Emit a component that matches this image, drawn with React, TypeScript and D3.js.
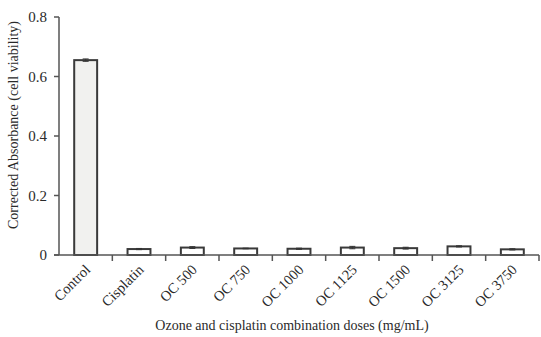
import React from "react";
import * as d3 from "d3";

const categories = ["Control", "Cisplatin", "OC 500", "OC 750", "OC 1000", "OC 1125", "OC 1500", "OC 3125", "OC 3750"];
const values = [0.655, 0.02, 0.025, 0.022, 0.021, 0.025, 0.023, 0.029, 0.019];
const errors = [0.004, 0.002, 0.003, 0.001, 0.002, 0.004, 0.003, 0.002, 0.002];
const yTicks = [0, 0.2, 0.4, 0.6, 0.8];
const yTickLabels = ["0", "0.2", "0.4", "0.6", "0.8"];

export default function App() {
  const W = 541, H = 337;
  const left = 59, right = 539, top = 17, bottom = 255;
  const x = d3.scaleBand<string>().domain(categories).range([left, right]).paddingInner(0).paddingOuter(0);
  const y = d3.scaleLinear().domain([0, 0.8]).range([bottom, top]);
  const bw = x.bandwidth() * 0.43;
  const font = "'Liberation Serif', 'Times New Roman', serif";
  const axisColor = "#555";
  const textColor = "#2a2a2a";
  return (
    <svg width={W} height={H} style={{ position: "absolute", left: 0, top: 0, background: "#fff" }} fontFamily={font}>
      {categories.map((c, i) => {
        const cx = x(c)! + x.bandwidth() / 2;
        const yt = y(values[i]);
        return (
          <g key={c}>
            <rect x={cx - bw / 2} y={yt} width={bw} height={bottom - yt} fill={i === 0 ? "#f1f1ef" : "#fff"} stroke="#3a3a3a" strokeWidth={2} />
            <line x1={cx} x2={cx} y1={y(values[i] + errors[i])} y2={y(values[i] - errors[i])} stroke="#333" strokeWidth={1} />
            <line x1={cx - 3} x2={cx + 3} y1={y(values[i] + errors[i])} y2={y(values[i] + errors[i])} stroke="#333" strokeWidth={1} />
            <line x1={cx - 3} x2={cx + 3} y1={y(values[i] - errors[i])} y2={y(values[i] - errors[i])} stroke="#333" strokeWidth={1} />
          </g>
        );
      })}
      <line x1={left} x2={left} y1={top} y2={bottom} stroke={axisColor} strokeWidth={1.5} />
      {yTicks.map((t, i) => (
        <g key={t}>
          <line x1={left - 5} x2={left} y1={y(t)} y2={y(t)} stroke={axisColor} strokeWidth={1.5} />
          <text x={left - 12} y={y(t)} dy="0.35em" textAnchor="end" fontSize={15} fill={textColor}>{yTickLabels[i]}</text>
        </g>
      ))}
      <line x1={left - 5} x2={right} y1={bottom} y2={bottom} stroke={axisColor} strokeWidth={1.5} />
      {categories.map((c) => (
        <line key={"t" + c} x1={x(c)! + x.bandwidth()} x2={x(c)! + x.bandwidth()} y1={bottom} y2={bottom + 6} stroke={axisColor} strokeWidth={1.5} />
      ))}
      {categories.map((c) => {
        const cx = x(c)! + x.bandwidth() / 2 + 2;
        const ty = bottom + 12;
        return (
          <text key={"l" + c} x={cx} y={ty} transform={`rotate(-45 ${cx} ${ty})`} textAnchor="end" dy="0.35em" fontSize={14.5} fill={textColor}>{c}</text>
        );
      })}
      <text x={292} y={330} textAnchor="middle" fontSize={14} fill={textColor}>Ozone and cisplatin combination doses (mg/mL)</text>
      <text transform={`translate(18 125) rotate(-90)`} textAnchor="middle" fontSize={14} fill={textColor}>Corrected Absorbance  (cell viability)</text>
    </svg>
  );
}
